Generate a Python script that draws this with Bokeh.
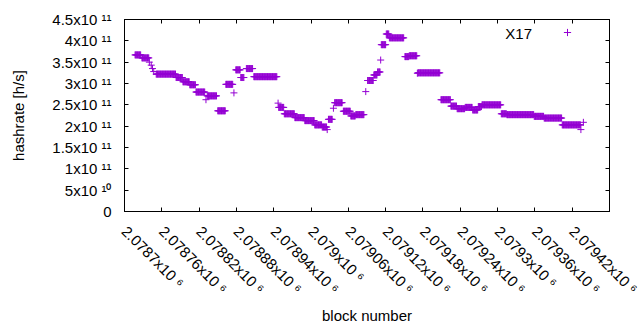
import numpy as np
from bokeh.plotting import figure
from bokeh.models import (FixedTicker, LinearAxis, Label, Legend, LegendItem,
                          CustomJSTickFormatter, ColumnDataSource)
from bokeh.embed import file_html
from bokeh.resources import INLINE

# ---- data: runs of blocks sharing the same hashrate estimate ----
run_start = [2078717, 2078728, 2078740, 2078743, 2078745, 2078747, 2078751, 2078783,
             2078794, 2078805, 2078815, 2078831, 2078833, 2078850, 2078863, 2078876,
             2078879, 2078887, 2078896, 2078908, 2078947, 2078948, 2078957, 2078974,
             2078990, 2079006, 2079018, 2079026, 2079028, 2079036, 2079038, 2079052,
             2079064, 2079072, 2079088, 2079091, 2079101, 2079107, 2079112, 2079113,
             2079121, 2079126, 2079151, 2079158, 2079171, 2079172, 2079209, 2079225,
             2079235, 2079248, 2079260, 2079269, 2079275, 2079306, 2079315, 2079359,
             2079375, 2079404, 2079434, 2079438]
run_end = [2078726, 2078739, 2078740, 2078743, 2078745, 2078747, 2078782, 2078793,
           2078804, 2078814, 2078829, 2078831, 2078848, 2078862, 2078874, 2078876,
           2078886, 2078892, 2078906, 2078945, 2078947, 2078956, 2078973, 2078989,
           2079005, 2079017, 2079025, 2079026, 2079034, 2079036, 2079050, 2079063,
           2079071, 2079085, 2079088, 2079100, 2079106, 2079111, 2079112, 2079120,
           2079125, 2079149, 2079157, 2079170, 2079171, 2079207, 2079224, 2079234,
           2079247, 2079259, 2079268, 2079274, 2079305, 2079314, 2079358, 2079374,
           2079403, 2079433, 2079434, 2079438]
run_hashrate = [3.67e11, 3.60e11, 3.50e11, 3.43e11, 3.35e11, 3.28e11, 3.22e11, 3.14e11,
                3.04e11, 2.97e11, 2.80e11, 2.62e11, 2.71e11, 2.36e11, 2.98e11, 2.78e11,
                3.32e11, 3.14e11, 3.35e11, 3.16e11, 2.54e11, 2.44e11, 2.29e11, 2.20e11,
                2.13e11, 2.03e11, 1.98e11, 1.92e11, 2.16e11, 2.42e11, 2.55e11, 2.35e11,
                2.24e11, 2.27e11, 2.81e11, 3.07e11, 3.20e11, 3.27e11, 3.55e11, 3.91e11,
                4.16e11, 4.07e11, 3.63e11, 3.65e11, 3.24e11, 3.25e11, 2.62e11, 2.47e11,
                2.41e11, 2.44e11, 2.38e11, 2.46e11, 2.50e11, 2.29e11, 2.27e11, 2.23e11,
                2.19e11, 2.03e11, 1.92e11, 2.09e11]

x_ticks = [2078700, 2078760, 2078820, 2078880, 2078940, 2079000, 2079060,
           2079120, 2079180, 2079240, 2079300, 2079360, 2079420, 2079480]
# the last label runs off the right edge of the picture in the original
x_tick_labels = ["2.0787x10 ⁶", "2.07876x10 ⁶", "2.07882x10 ⁶", "2.07888x10 ⁶",
                 "2.07894x10 ⁶", "2.079x10 ⁶", "2.07906x10 ⁶", "2.07912x10 ⁶",
                 "2.07918x10 ⁶", "2.07924x10 ⁶", "2.0793x10 ⁶", "2.07936x10 ⁶",
                 "2.07942x10 ⁶", ""]
y_ticks = [0, 5e10, 1e11, 1.5e11, 2e11, 2.5e11, 3e11, 3.5e11, 4e11, 4.5e11]
y_tick_labels = ["0", "5x10 ¹⁰", "1x10 ¹¹", "1.5x10 ¹¹", "2x10 ¹¹", "2.5x10 ¹¹",
                 "3x10 ¹¹", "3.5x10 ¹¹", "4x10 ¹¹", "4.5x10 ¹¹"]
series_name = "X17"
x_title = "block number"
y_title = "hashrate [h/s]"

blocks = np.concatenate([np.arange(s, e + 1) for s, e in zip(run_start, run_end)])
rates = np.concatenate([np.full(e - s + 1, v) for s, e, v in zip(run_start, run_end, run_hashrate)])
src = ColumnDataSource(dict(x=blocks, y=rates))

FONT = "Liberation Sans"
FS = "15px"
COLOR = "#9400D3"

p = figure(frame_width=485, frame_height=192,
           x_range=(x_ticks[0], x_ticks[-1]), y_range=(y_ticks[0], y_ticks[-1]),
           output_backend="svg", toolbar_location=None,
           min_border_left=124, min_border_right=31, min_border_top=19, min_border_bottom=119)
p.background_fill_color = "white"
p.border_fill_color = "white"
p.grid.visible = False
p.outline_line_color = "black"
p.outline_line_alpha = 1
p.outline_line_width = 1

r = p.scatter("x", "y", source=src, marker="cross", size=7, line_color=COLOR, line_width=1)

blank = CustomJSTickFormatter(code="return ''")

def style_axis(ax, labels=True):
    ax.major_tick_in = 4
    ax.major_tick_out = 0
    ax.minor_tick_in = 0
    ax.minor_tick_out = 0
    ax.axis_line_color = "black"
    ax.major_label_text_font = FONT
    ax.major_label_text_font_size = FS if labels else "0px"
    ax.major_label_text_color = "black"
    ax.axis_label_text_font = FONT
    ax.axis_label_text_font_size = FS
    ax.axis_label_text_font_style = "normal"
    ax.axis_label_text_color = "black"

xax = p.xaxis[0]
style_axis(xax)
xax.ticker = FixedTicker(ticks=x_ticks)
xax.major_label_overrides = {t: l for t, l in zip(x_ticks, x_tick_labels)}
xax.major_label_orientation = -np.pi / 4
xax.major_label_standoff = 17
xax.axis_label = x_title
xax.axis_label_standoff = 1

yax = p.yaxis[0]
style_axis(yax)
yax.ticker = FixedTicker(ticks=y_ticks)
yax.major_label_overrides = {t: l for t, l in zip(y_ticks, y_tick_labels)}
yax.major_label_standoff = 13
yax.axis_label = y_title
yax.axis_label_standoff = 22

# mirrored ticks on the right and top
for side, ticks in (("right", y_ticks), ("above", x_ticks)):
    ax = LinearAxis(ticker=FixedTicker(ticks=ticks), formatter=blank)
    style_axis(ax, labels=False)
    ax.major_label_standoff = 0
    p.add_layout(ax, side)

# key: text on the left, sample marker on the right (gnuplot style)
p.add_layout(Label(x=407.5, y=178, x_units="screen", y_units="screen", text=series_name,
                   text_align="right", text_baseline="middle", text_font=FONT,
                   text_font_size=FS, text_color="black"))
legend = Legend(items=[LegendItem(label="", renderers=[r])], location=(434.3, 170.3),
                glyph_width=18, glyph_height=18, label_width=0, label_standoff=0,
                label_text_font_size="1px", padding=0, margin=0, spacing=0,
                border_line_alpha=0, background_fill_alpha=0)
p.add_layout(legend)

open("out.html", "w").write(file_html(p, INLINE))
